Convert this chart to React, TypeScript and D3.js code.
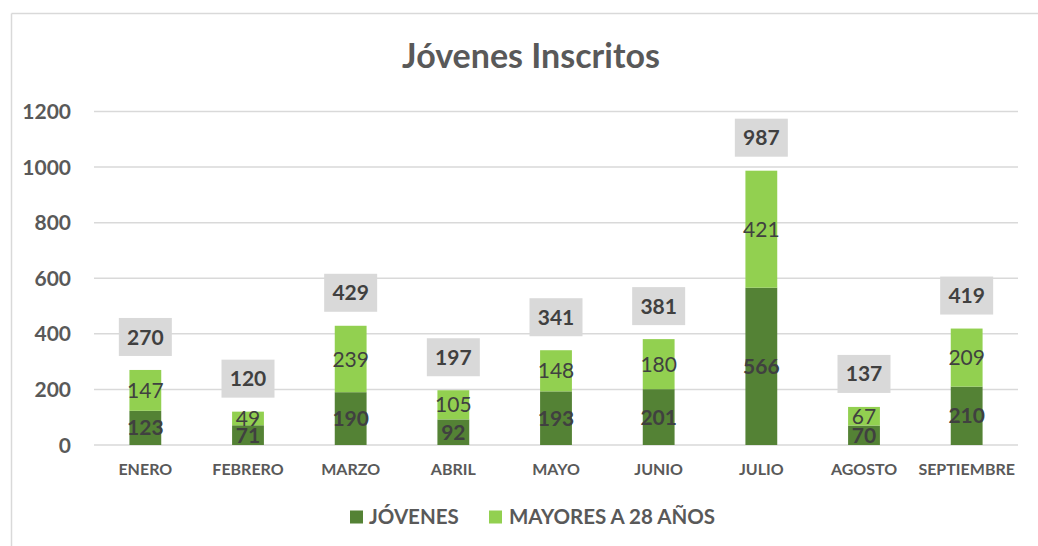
import React from "react";
import * as d3 from "d3";

const months = ["ENERO", "FEBRERO", "MARZO", "ABRIL", "MAYO", "JUNIO", "JULIO", "AGOSTO", "SEPTIEMBRE"];
const jovenes = [123, 71, 190, 92, 193, 201, 566, 70, 210];
const mayores = [147, 49, 239, 105, 148, 180, 421, 67, 209];
const totals = [270, 120, 429, 197, 341, 381, 987, 137, 419];
const yTicks = [0, 200, 400, 600, 800, 1000, 1200];
const seriesNames = ["JÓVENES", "MAYORES A 28 AÑOS"];

const W = 1038;
const H = 546;
const DARK = "#548235";
const LIGHT = "#92D050";
const FONT = "Lato, 'Open Sans', sans-serif";

export default function App() {
  const x = d3.scaleBand<string>().domain(months).range([94, 1018]).paddingInner(0.69).paddingOuter(0.345);
  const y = d3.scaleLinear().domain([0, 1200]).range([445, 111.5]);
  const bw = x.bandwidth();

  return (
    <svg width={W} height={H} style={{ position: "absolute", left: 0, top: 0, background: "#fff" }} fontFamily={FONT}>
      <rect x={0} y={0} width={W} height={H} fill="#fff" />
      <line x1={11.5} y1={13.5} x2={W} y2={13.5} stroke="#d9d9d9" strokeWidth={1.5} />
      <line x1={11.5} y1={13.5} x2={11.5} y2={H} stroke="#d9d9d9" strokeWidth={1.5} />
      <text x={531} y={68} textAnchor="middle" fontSize={34} fontWeight={700} fill="#595959">
        Jóvenes Inscritos
      </text>
      {yTicks.map((t) => (
        <g key={t}>
          <line x1={94} x2={1018} y1={y(t)} y2={y(t)} stroke="#d9d9d9" strokeWidth={1.5} />
          <text x={71} y={y(t)} dy="0.36em" textAnchor="end" fontSize={21} fontWeight={700} fill="#595959">
            {t}
          </text>
        </g>
      ))}
      {months.map((m, i) => {
        const x0 = x(m)!;
        const cx = x0 + bw / 2;
        const j = jovenes[i];
        const k = mayores[i];
        const top = y(j + k);
        return (
          <g key={m}>
            <rect x={x0} y={y(j)} width={bw} height={y(0) - y(j)} fill={DARK} />
            <rect x={x0} y={y(j + k)} width={bw} height={y(j) - y(j + k)} fill={LIGHT} />
            <text x={cx} y={y(j / 2)} dy="0.36em" textAnchor="middle" fontSize={21} fontWeight={700} fill="#404040">
              {j}
            </text>
            <text x={cx} y={y(j + k / 2)} dy="0.36em" textAnchor="middle" fontSize={21} fill="#404040">
              {k}
            </text>
            <rect x={cx - 26.5} y={top - 14 - 38} width={53} height={38} fill="#d9d9d9" />
            <text x={cx} y={top - 33} dy="0.36em" textAnchor="middle" fontSize={21} fontWeight={700} fill="#404040">
              {totals[i]}
            </text>
            <text x={cx} y={469} dy="0.36em" textAnchor="middle" fontSize={16} fontWeight={700} fill="#595959">
              {m}
            </text>
          </g>
        );
      })}
      <rect x={350} y={510.5} width={13} height={13} fill={DARK} />
      <text x={369} y={517} dy="0.36em" fontSize={20.5} fontWeight={700} fill="#595959">
        {seriesNames[0]}
      </text>
      <rect x={489} y={510.5} width={13} height={13} fill={LIGHT} />
      <text x={509} y={517} dy="0.36em" fontSize={20.5} fontWeight={700} fill="#595959">
        {seriesNames[1]}
      </text>
    </svg>
  );
}
